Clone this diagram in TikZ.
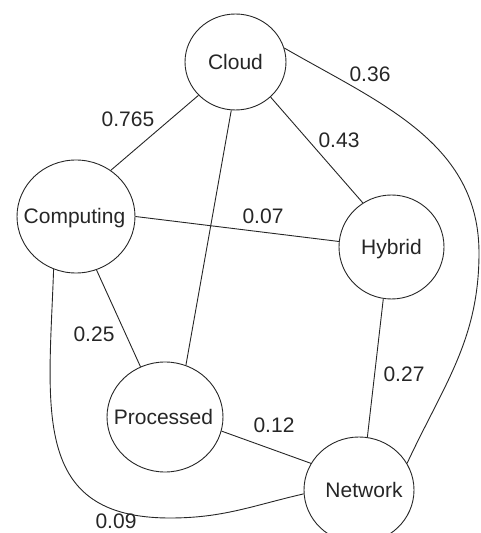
\documentclass[tikz,border=0pt]{standalone}
\usepackage{fontspec}
\setmainfont{Liberation Sans}
\usetikzlibrary{shapes.geometric}
\begin{document}
\begin{tikzpicture}[x=1pt,y=1pt,
  vtx/.style={draw=black!85, line width=0.9pt, ellipse, inner sep=0pt, text height=15pt, text depth=0pt},
  wlab/.style={inner sep=0pt, text height=15pt, text depth=0pt},
  edge/.style={draw=black!85, line width=0.9pt},
  font=\fontsize{21}{25}\selectfont, text=black!85]
\useasboundingbox (0,0) rectangle (481,533);
\begin{scope}
\clip (0,0) rectangle (481,533);
\node[vtx, minimum width=101pt, minimum height=96pt] (cloud) at (235.5,471) {\makebox[0pt]{Cloud}};
\node[vtx, minimum width=118pt, minimum height=113pt] (computing) at (76,316.5) {\makebox[0pt]{\hspace{-3pt}Computing}};
\node[vtx, minimum width=105pt, minimum height=104pt] (hybrid) at (391.5,286) {\makebox[0pt]{Hybrid}};
\node[vtx, minimum width=116pt, minimum height=110pt] (processed) at (165,116) {\makebox[0pt]{\hspace{-3pt}Processed}};
\node[vtx, minimum width=110pt, minimum height=106pt] (network) at (359,43) {\makebox[0pt]{\hspace{10pt}Network}};
\coordinate (rpt) at (479,280);
\coordinate (cb) at (170,15);

\draw[edge] (cloud.-138.5) -- (computing.53.4);
\draw[edge] (cloud.-95) -- (processed.68.4);
\draw[edge] (cloud.-45.4) -- (hybrid.123);
\draw[edge] (cloud.16.5) to[out=-30,in=90] (rpt) to[out=-90,in=65] (network.29);
\draw[edge] (computing.0) -- (hybrid.174.5);
\draw[edge] (computing.-69) -- (processed.116);
\draw[edge] (computing.-113) to[out=-92,in=180,looseness=1.3] (cb) to[out=0,in=193] (network.184);
\draw[edge] (processed.-14.7) -- (network.151.7);
\draw[edge] (hybrid.-99) -- (network.81);

\node[wlab] (l1) at (128,414) {0.765};
\node[wlab] (l2) at (370,459) {0.36};
\node[wlab] (l3) at (339,393) {0.43};
\node[wlab] (l4) at (263,317) {0.07};
\node[wlab] (l5) at (94,199) {0.25};
\node[wlab] (l6) at (404,159) {0.27};
\node[wlab] (l7) at (274,108) {0.12};
\node[wlab] (l8) at (116,12) {0.09};
\end{scope}
\end{tikzpicture}
\end{document}
